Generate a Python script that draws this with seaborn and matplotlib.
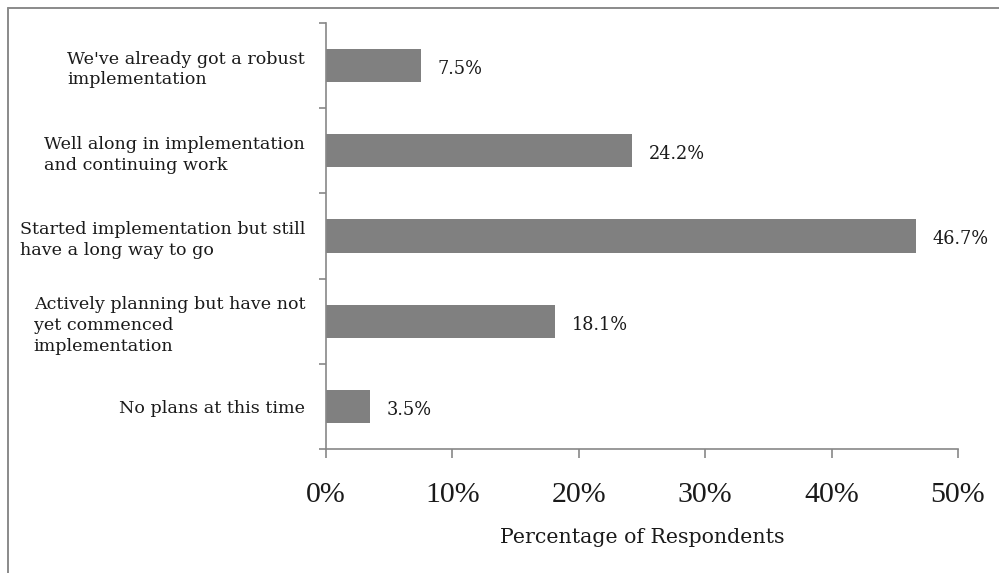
import matplotlib
matplotlib.use("Agg")
import matplotlib.pyplot as plt
from matplotlib.lines import Line2D
from matplotlib.ticker import FixedLocator, PercentFormatter
import seaborn as sns
import pandas as pd

# Survey responses: implementation status
categories = [
    "We've already got a robust\nimplementation",
    "Well along in implementation\nand continuing work",
    "Started implementation but still\nhave a long way to go",
    "Actively planning but have not\nyet commenced\nimplementation",
    "No plans at this time",
]
percentages = [7.5, 24.2, 46.7, 18.1, 3.5]
x_ticks = [0, 10, 20, 30, 40, 50]
x_label = "Percentage of Respondents"

df = pd.DataFrame({"status": categories, "pct": percentages})

sns.set_theme(style="white")
plt.rcParams["font.family"] = ["Liberation Serif", "DejaVu Serif"]
wide_serif = ["DejaVu Serif"]

axis_grey = "#878787"
bar_grey = "#808080"
text_col = "#1a1a1a"

fig = plt.figure(figsize=(9.99, 5.73), dpi=100)
ax = fig.add_axes([326 / 999, 1 - 449 / 573, (958 - 326) / 999, (449 - 23) / 573])

sns.barplot(data=df, x="pct", y="status", orient="h", color=bar_grey,
            saturation=1, width=0.39, linewidth=0, ax=ax)

# value labels beside each bar
for i, v in enumerate(percentages):
    ax.annotate(f"{v:.1f}%", xy=(v, i), xytext=(12, -1), textcoords="offset points",
                ha="left", va="center_baseline", fontsize=12.8, color=text_col,
                family=wide_serif)

# x axis
ax.set_xlim(0, 50)
ax.set_xticks(x_ticks)
ax.xaxis.set_major_formatter(PercentFormatter(decimals=0))
ax.tick_params(axis="x", which="major", direction="out", length=6.5, width=1.2,
               color=axis_grey, pad=17, labelsize=21.5, labelcolor=text_col,
               bottom=True)
ax.set_xlabel(x_label, fontsize=14.8, color=text_col, labelpad=15,
              family=wide_serif)

# y axis: ticks between categories, labels centred on bars
n = len(categories)
ax.set_ylim(n - 0.5, -0.5)
ax.yaxis.set_major_locator(FixedLocator([k - 0.5 for k in range(n + 1)]))
ax.yaxis.set_minor_locator(FixedLocator(list(range(n))))
ax.set_yticklabels([], minor=False)
ax.set_yticklabels(categories, minor=True)
ax.tick_params(axis="y", which="major", direction="out", length=5, width=1.2,
               color=axis_grey, left=True)
ax.tick_params(axis="y", which="minor", length=0, pad=15, labelcolor=text_col,
               left=True)
for lbl in ax.get_yticklabels(minor=True):
    lbl.set_multialignment("left")
    lbl.set_family(wide_serif)
    lbl.set_fontsize(12.6)
    lbl.set_linespacing(1.3)
ax.set_ylabel("")

for side in ("top", "right"):
    ax.spines[side].set_visible(False)
for side in ("left", "bottom"):
    ax.spines[side].set_color(axis_grey)
    ax.spines[side].set_linewidth(1.2)

# outer chart frame (top and left edges)
y_top = 1 - 7.5 / 573
x_left = 8 / 999
fig.add_artist(Line2D([x_left, 1], [y_top, y_top], transform=fig.transFigure,
                      color="#8a8a8a", lw=1.4))
fig.add_artist(Line2D([x_left, x_left], [0, y_top], transform=fig.transFigure,
                      color="#8a8a8a", lw=1.4))

fig.savefig("out.png", dpi=100)
